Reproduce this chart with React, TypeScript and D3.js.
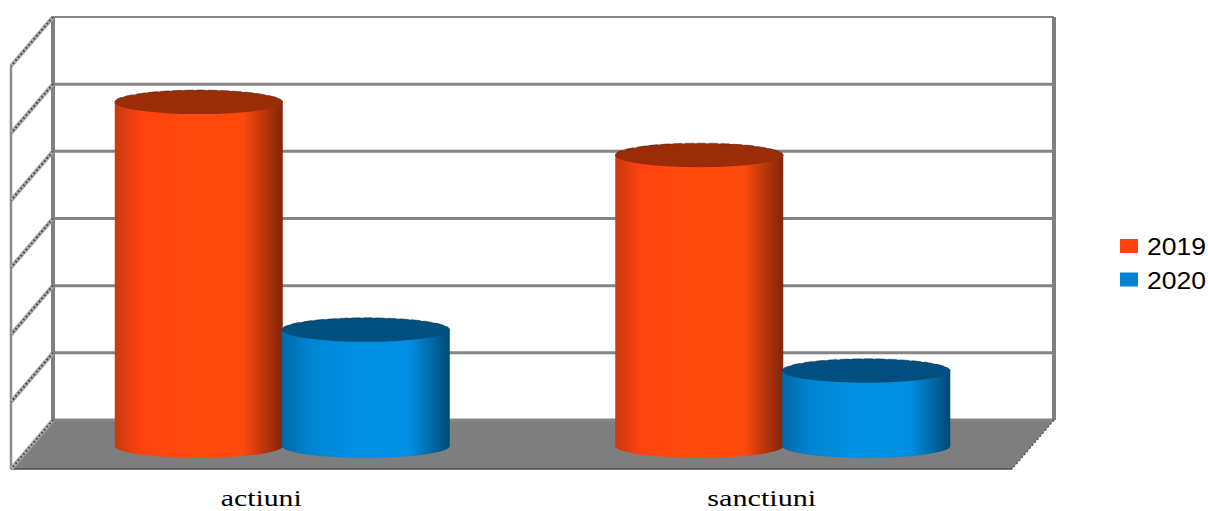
import React from "react";
import * as d3 from "d3";

const categories = ["actiuni", "sanctiuni"];
const seriesNames = ["2019", "2020"];
const values2019 = [5.09, 4.3];
const values2020 = [1.7, 1.09];
const gridTicks = [0, 1, 2, 3, 4, 5, 6];
const legendColors = { "2019": "#ff420e", "2020": "#0084d1" };
const brightColors = { "2019": "#ff4a0e", "2020": "#008fe3" };
const topColors = { "2019": "#9a2c08", "2020": "#00507f" };
const edgeLeft = { "2019": "#c83a0e", "2020": "#0069a6" };
const edgeRight = { "2019": "#802508", "2020": "#004a75" };

const W = 1208, H = 511;
const backLeft = 53, backRight = 1054, backTop = 17, backBottom = 420;
const depthX = -42, depthY = 49;
const RY = 12;

const yBack = d3.scaleLinear().domain([0, 6]).range([backBottom, backTop]);
const yMid = (v: number) => yBack(v) + 24;
const xCat = d3.scaleBand<string>().domain(categories)
  .range([backLeft + depthX / 2, backRight + depthX / 2]);
const xCenter = (c: string) => (xCat(c) as number) + xCat.bandwidth() / 2;
const barWidth = 167;

function Cylinder({ cat, name, value }: { cat: string; name: string; value: number }) {
  const cx = xCenter(cat) + (name === "2019" ? -barWidth / 2 : barWidth / 2);
  const rx = barWidth / 2 + 0.5;
  const yTop = yMid(value);
  const yBase = yMid(0) + 2;
  const d = `M${cx - rx},${yTop} L${cx - rx},${yBase} A${rx},${RY} 0 0 0 ${cx + rx},${yBase} L${cx + rx},${yTop} Z`;
  const topArc = `M${cx - rx},${yTop} A${rx},${RY} 0 0 1 ${cx + rx},${yTop}`;
  return (
    <g>
      <path d={d} fill={`url(#grad${name})`} />
      <ellipse cx={cx} cy={yTop} rx={rx} ry={RY} fill={(topColors as any)[name]} />
      <path d={topArc} fill="none" stroke="#222" strokeOpacity={0.55} strokeWidth={1} strokeDasharray="9 3" />
    </g>
  );
}

export default function App() {
  const frontLeft = backLeft + depthX, frontRight = backRight + depthX;
  const floorY = backBottom + depthY;
  return (
    <svg width={W} height={H} style={{ position: "absolute", left: 0, top: 0, background: "#fff" }}>
      <defs>
        {seriesNames.map((n) => (
          <linearGradient id={`grad${n}`} key={n} x1="0" x2="1" y1="0" y2="0">
            <stop offset="0" stopColor={(edgeLeft as any)[n]} />
            <stop offset="0.16" stopColor={(legendColors as any)[n]} />
            <stop offset="0.42" stopColor={(brightColors as any)[n]} />
            <stop offset="0.76" stopColor={(brightColors as any)[n]} />
            <stop offset="1" stopColor={(edgeRight as any)[n]} />
          </linearGradient>
        ))}
      </defs>

      {/* floor */}
      <polygon
        points={`${backLeft},${backBottom} ${backRight},${backBottom} ${frontRight},${floorY} ${frontLeft},${floorY}`}
        fill="#7e7e7e"
      />
      <line x1={frontLeft} x2={frontRight} y1={floorY} y2={floorY} stroke="#4a4a4a" strokeWidth={1.5} />

      {/* back wall */}
      {gridTicks.map((t) => (
        <line key={t} x1={backLeft} x2={backRight} y1={yBack(t)} y2={yBack(t)} stroke="#858585" strokeWidth={t === 6 ? 2 : 3} />
      ))}
      <line x1={backLeft} x2={backLeft} y1={backTop} y2={backBottom} stroke="#808080" strokeWidth={4} />
      <line x1={backRight} x2={backRight} y1={backTop} y2={backBottom} stroke="#808080" strokeWidth={4} />

      {/* left wall */}
      <line x1={frontLeft} x2={frontLeft} y1={yBack(6) + depthY} y2={floorY} stroke="#8c8c8c" strokeWidth={2.5} />
      {gridTicks.map((t) => (
        <g key={t}>
          <line x1={backLeft} x2={frontLeft} y1={yBack(t)} y2={yBack(t) + depthY} stroke="#a8a8a8" strokeWidth={4} />
          <line x1={backLeft} x2={frontLeft} y1={yBack(t)} y2={yBack(t) + depthY} stroke="#3c3c3c" strokeWidth={2} strokeDasharray="1.5 2.5" />
        </g>
      ))}
      <line x1={backRight} x2={frontRight} y1={backBottom} y2={floorY} stroke="#555" strokeWidth={1.5} strokeDasharray="2 2" />

      {/* cylinders */}
      {categories.map((c, i) => (
        <g key={c}>
          <Cylinder cat={c} name="2019" value={values2019[i]} />
          <Cylinder cat={c} name="2020" value={values2020[i]} />
        </g>
      ))}

      {/* category labels */}
      {categories.map((c) => (
        <text key={c} x={xCenter(c) - 21} y={505.5} textAnchor="middle" fontFamily="Liberation Serif" fontSize={24}
          textLength={c === "actiuni" ? 81 : 109} lengthAdjust="spacingAndGlyphs" fill="#000">
          {c}
        </text>
      ))}

      {/* legend */}
      {seriesNames.map((n, i) => (
        <g key={n}>
          <rect x={1120} y={239 + i * 33.5} width={18} height={14} fill={(legendColors as any)[n]} />
          <text x={1147} y={255 + i * 33.5} fontFamily="Liberation Sans" fontSize={24} textLength={59} lengthAdjust="spacingAndGlyphs" fill="#000">{n}</text>
        </g>
      ))}
    </svg>
  );
}
